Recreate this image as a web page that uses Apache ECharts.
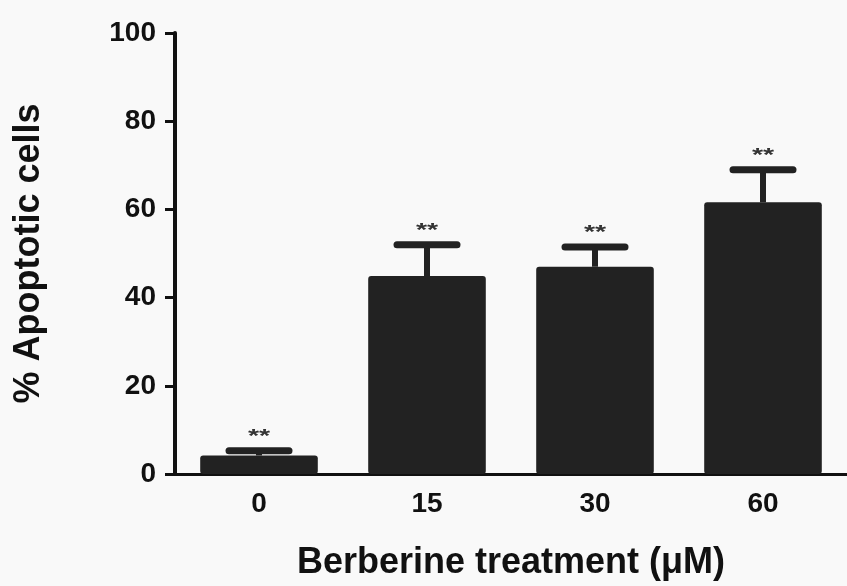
<!DOCTYPE html>
<html><head><meta charset="utf-8">
<script src="https://cdn.jsdelivr.net/npm/echarts@6/dist/echarts.min.js"></script>
<style>html,body{margin:0;padding:0;background:#f9f9f9}#c{width:847px;height:586px}</style>
</head><body><div id="c"></div>
<script>
var categories = ['0', '15', '30', '60'];
var means = [4.2, 44.9, 47.0, 61.6];
var errUpper = [5.3, 52.0, 51.5, 69.0];
var marks = ['**', '**', '**', '**'];
var yTicks = [0, 20, 40, 60, 80, 100];

var chart = echarts.init(document.getElementById('c'));
var font = '"Liberation Sans", Arial, sans-serif';
chart.setOption({
  backgroundColor: '#f9f9f9',
  animation: false,
  grid: {left: 175, right: 0, top: 33, bottom: 108},
  xAxis: {
    type: 'category', data: categories,
    axisLine: {lineStyle: {color: '#111', width: 3}},
    axisTick: {alignWithLabel: true, length: 10, lineStyle: {width: 3, color: '#111'}},
    axisLabel: {color: '#111', fontSize: 28, fontWeight: 'bold', fontFamily: font, margin: 16},
    name: 'Berberine treatment (\u03bcM)', nameLocation: 'middle', nameGap: 71,
    nameTextStyle: {color: '#111', fontSize: 36, fontWeight: 'bold', fontFamily: font}
  },
  yAxis: {
    type: 'value', min: 0, max: 100, interval: 20,
    axisLine: {show: true, lineStyle: {color: '#111', width: 4}},
    axisTick: {show: true, length: 10, lineStyle: {width: 3, color: '#111'}},
    splitLine: {show: false},
    axisLabel: {color: '#111', fontSize: 28, fontWeight: 'bold', fontFamily: font, margin: 19,
      formatter: function (v) { return yTicks.indexOf(v) >= 0 ? String(v) : ''; }},
    name: '% Apoptotic cells', nameLocation: 'middle', nameGap: 128, nameRotate: 90,
    nameTextStyle: {color: '#111', fontSize: 36, fontWeight: 'bold', fontFamily: font}
  },
  series: [
    {type: 'bar', data: means, barWidth: '70%', itemStyle: {color: '#222', borderRadius: 3}, z: 2},
    {
      type: 'custom', z: 3,
      data: categories.map(function (c, i) { return [i, means[i], errUpper[i]]; }),
      renderItem: function (params, api) {
        var x = api.coord([api.value(0), 0])[0];
        var yb = api.coord([api.value(0), api.value(1)])[1];
        var yt = api.coord([api.value(0), api.value(2)])[1];
        var half = 30;
        return {
          type: 'group',
          children: [
            {type: 'line', shape: {x1: x, y1: yb, x2: x, y2: yt}, style: {stroke: '#222', lineWidth: 6}},
            {type: 'line', shape: {x1: x - half, y1: yt, x2: x + half, y2: yt}, style: {stroke: '#222', lineWidth: 7, lineCap: 'round'}},
            {type: 'text', x: x, y: yt - 14, scaleX: 1.5, style: {text: marks[params.dataIndex], fill: '#333', fontSize: 19, fontWeight: 'bold', fontFamily: font, align: 'center', verticalAlign: 'middle'}}
          ]
        };
      }
    }
  ]
});
</script></body></html>
